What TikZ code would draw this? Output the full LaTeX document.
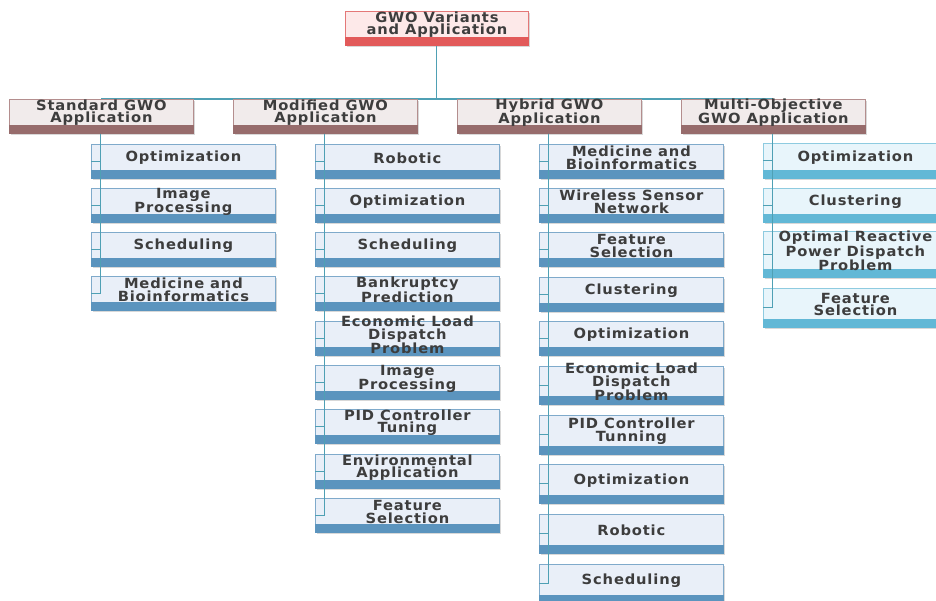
\documentclass[tikz,border=0pt]{standalone}
\usepackage{fontspec}
\usetikzlibrary{shadows}
\newfontfamily\boxfont[FakeStretch=1.05,LetterSpace=6]{DejaVu Sans Bold}
\definecolor{rootfill}{HTML}{FDE9E9}
\definecolor{rootline}{HTML}{E47878}
\definecolor{rootband}{HTML}{E25A5A}
\definecolor{lvfill}{HTML}{F1EBEB}
\definecolor{lvline}{HTML}{B48E8E}
\definecolor{lvband}{HTML}{976C6C}
\definecolor{leaffill}{HTML}{E9EFF8}
\definecolor{leafline}{HTML}{7FAACB}
\definecolor{leafband}{HTML}{5B94BE}
\definecolor{multifill}{HTML}{E8F5FB}
\definecolor{multiline}{HTML}{8ECBE0}
\definecolor{multiband}{HTML}{62B8D6}
\definecolor{txtgray}{HTML}{3D3D3D}
\definecolor{conncol}{HTML}{4FA0B4}
\newcommand\gbox[7]{%
  \node[boxbase,#5,minimum height=#4pt,anchor=north west] (#1) at (#2,#3) {};
  \fill[#6] (#1.south west) rectangle ([yshift=8.5pt]#1.south east);
  \node[txt] at ([yshift=3.6pt]#1.center) {#7};
}
\begin{document}
\begin{tikzpicture}[x=1pt,y=-1pt,
  boxbase/.style={rectangle, inner sep=0pt, minimum width=184pt, line width=0.8pt,
    drop shadow={shadow xshift=1.5pt,shadow yshift=-1.5pt,fill=black!30,opacity=0.5}},
  rootbox/.style={draw=rootline, fill=rootfill, minimum width=183pt},
  lvbox/.style={draw=lvline, fill=lvfill},
  leafbox/.style={draw=leafline, fill=leaffill},
  multibox/.style={draw=multiline, fill=multifill},
  txt/.style={font=\boxfont\fontsize{14}{12.5}\selectfont, text=txtgray, align=center, inner sep=0pt},
  conn/.style={draw=conncol, line width=1.1pt}]
\clip (0,0) rectangle (936,600);
\fill[white] (0,0) rectangle (936,600);

% root
\gbox{root}{345}{11}{34}{rootbox}{rootband}{GWO Variants\\and Application}

% bar joining the level-1 boxes (drawn before them)
\coordinate (barL) at (101,99);
\coordinate (barR) at (773,99);
\draw[conn] (barL) -- (barR);
\draw[conn] (root.south) -- (root.south |- barL);

\gbox{std}{9}{99}{34}{lvbox}{lvband}{Standard GWO\\Application}
\gbox{mod}{233}{99}{34}{lvbox}{lvband}{Modified GWO\\Application}
\gbox{hyb}{457}{99}{34}{lvbox}{lvband}{Hybrid GWO\\Application}
\gbox{mo}{681}{99}{34}{lvbox}{lvband}{Multi-Objective\\GWO Application}

% Standard
\gbox{s1}{91}{144}{34}{leafbox}{leafband}{Optimization}
\gbox{s2}{91}{188}{34}{leafbox}{leafband}{Image\\Processing}
\gbox{s3}{91}{232}{34}{leafbox}{leafband}{Scheduling}
\gbox{s4}{91}{276}{34}{leafbox}{leafband}{Medicine and\\Bioinformatics}

% Modified
\gbox{m1}{315}{144}{34}{leafbox}{leafband}{Robotic}
\gbox{m2}{315}{188}{34}{leafbox}{leafband}{Optimization}
\gbox{m3}{315}{232}{34}{leafbox}{leafband}{Scheduling}
\gbox{m4}{315}{276}{34}{leafbox}{leafband}{Bankruptcy\\Prediction}
\gbox{m5}{315}{321}{34}{leafbox}{leafband}{Economic Load\\Dispatch\\Problem}
\gbox{m6}{315}{365}{34}{leafbox}{leafband}{Image\\Processing}
\gbox{m7}{315}{409}{34}{leafbox}{leafband}{PID Controller\\Tuning}
\gbox{m8}{315}{454}{34}{leafbox}{leafband}{Environmental\\Application}
\gbox{m9}{315}{498}{34}{leafbox}{leafband}{Feature\\Selection}

% Hybrid
\gbox{h1}{539}{144}{34}{leafbox}{leafband}{Medicine and\\Bioinformatics}
\gbox{h2}{539}{188}{34}{leafbox}{leafband}{Wireless Sensor\\Network}
\gbox{h3}{539}{232}{34}{leafbox}{leafband}{Feature\\Selection}
\gbox{h4}{539}{277}{34}{leafbox}{leafband}{Clustering}
\gbox{h5}{539}{321}{34}{leafbox}{leafband}{Optimization}
\gbox{h6}{539}{366}{38}{leafbox}{leafband}{Economic Load\\Dispatch\\Problem}
\gbox{h7}{539}{415}{39}{leafbox}{leafband}{PID Controller\\Tunning}
\gbox{h8}{539}{464}{39}{leafbox}{leafband}{Optimization}
\gbox{h9}{539}{514}{39}{leafbox}{leafband}{Robotic}
\gbox{h10}{539}{564}{39}{leafbox}{leafband}{Scheduling}

% Multi-objective
\gbox{o1}{763}{143}{35}{multibox}{multiband}{Optimization}
\gbox{o2}{763}{188}{34}{multibox}{multiband}{Clustering}
\gbox{o3}{763}{231}{46}{multibox}{multiband}{Optimal Reactive\\Power Dispatch\\Problem}
\gbox{o4}{763}{288}{39}{multibox}{multiband}{Feature\\Selection}

% connectors
\foreach \c in {s1,s2,s3,s4} \draw[conn] ([xshift=-1pt]std.south) |- (\c.west);
\foreach \c in {m1,m2,m3,m4,m5,m6,m7,m8,m9} \draw[conn] ([xshift=-1pt]mod.south) |- (\c.west);
\foreach \c in {h1,h2,h3,h4,h5,h6,h7,h8,h9,h10} \draw[conn] ([xshift=-1pt]hyb.south) |- (\c.west);
\foreach \c in {o1,o2,o3,o4} \draw[conn] ([xshift=-1pt]mo.south) |- (\c.west);
\end{tikzpicture}
\end{document}
